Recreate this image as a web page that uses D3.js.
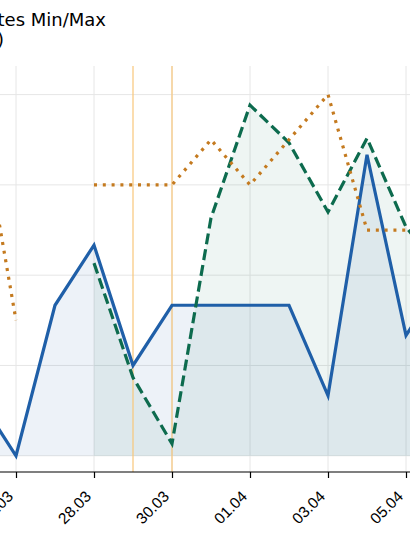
<!DOCTYPE html>
<html>
<head>
<meta charset="utf-8">
<script src="https://cdn.jsdelivr.net/npm/d3@7"></script>
<style>
  html, body { margin: 0; padding: 0; background: #fff; overflow: hidden; }
  svg { display: block; font-family: "DejaVu Sans", sans-serif; }
</style>
</head>
<body>
<svg id="chart" width="410" height="542"></svg>
<script>
// data (left part of the chart is cut off)
const dates = ["25.03", "26.03", "27.03", "28.03", "29.03", "30.03", "31.03",
               "01.04", "02.04", "03.04", "04.04", "05.04", "06.04"];
const seriesA = [2, 0, 5, 7, 3, 5, 5, 5, 5, 2, 10, 4, 6];
const seriesB = [null, null, null, 6.4, 2.6, 0.4, 7.9, 11.65, 10.4, 8.1, 10.55, 7.6, 6];
const seriesC = [12, 4.5, null, 9, 9, 9, 10.5, 9, 10.5, 12, 7.5, 7.5, 7.5];
const tickDates = ["26.03", "28.03", "30.03", "01.04", "03.04", "05.04"];
const yTicks = [0, 3, 6, 9, 12];
const markerDates = ["29.03", "30.03"];
const titleLines = ["Exchange Rates Min/Max", "(EUR)"];

const parse = s => d3.utcParse("%d.%m.%Y")(s + ".2024");

const rows = dates.map((d, i) => ({
  date: parse(d), a: seriesA[i], b: seriesB[i], c: seriesC[i]
}));

const svg = d3.select('#chart');
const plotTop = 66, plotBottom = 472, plotLeft = -60, plotRight = 470;

let x = d3.scaleUtc()
  .domain([parse("26.03"), parse("05.04")])
  .range([16, 406]);

let y = d3.scaleLinear()
  .domain([-0.54, 12.95])
  .range([plotBottom, plotTop]);

// grid
let grid = svg.append('g').attr('class', 'grid');
grid.selectAll('line.h')
  .data(yTicks)
  .enter().append('line')
  .attr('x1', plotLeft).attr('x2', plotRight)
  .attr('y1', d => y(d)).attr('y2', d => y(d))
  .attr('stroke', '#e6e6e6').attr('stroke-width', 1);
grid.selectAll('line.v')
  .data(tickDates.map(parse))
  .enter().append('line')
  .attr('x1', d => x(d)).attr('x2', d => x(d))
  .attr('y1', plotTop).attr('y2', plotBottom)
  .attr('stroke', '#e6e6e6').attr('stroke-width', 1);

// areas
let areaA = d3.area()
  .x(d => x(d.date)).y0(y(0)).y1(d => y(d.a));
let areaB = d3.area()
  .defined(d => d.b != null)
  .x(d => x(d.date)).y0(y(0)).y1(d => y(d.b));

svg.append('path').datum(rows)
  .attr('d', areaA)
  .attr('fill', '#1f5fa8').attr('fill-opacity', 0.08);
svg.append('path').datum(rows)
  .attr('d', areaB)
  .attr('fill', '#0d6b4e').attr('fill-opacity', 0.07);

// marker lines
svg.selectAll('line.marker')
  .data(markerDates.map(parse))
  .enter().append('line')
  .attr('x1', d => x(d)).attr('x2', d => x(d))
  .attr('y1', plotTop).attr('y2', plotBottom)
  .attr('stroke', '#f8c67a').attr('stroke-width', 1.2);

// lines
let lineA = d3.line().x(d => x(d.date)).y(d => y(d.a));
let lineB = d3.line().defined(d => d.b != null).x(d => x(d.date)).y(d => y(d.b));
let lineC = d3.line().defined(d => d.c != null).x(d => x(d.date)).y(d => y(d.c));

svg.append('path').datum(rows)
  .attr('d', lineA)
  .attr('fill', 'none').attr('stroke', '#1f5fa8').attr('stroke-width', 3.2)
  .attr('stroke-linejoin', 'miter');
svg.append('path').datum(rows)
  .attr('d', lineB)
  .attr('fill', 'none').attr('stroke', '#0d6b4e').attr('stroke-width', 3.2)
  .attr('stroke-dasharray', '11,5');
svg.append('path').datum(rows)
  .attr('d', lineC)
  .attr('fill', 'none').attr('stroke', '#c47a1f').attr('stroke-width', 3.2)
  .attr('stroke-dasharray', '3,5.8');

// x axis
let xAxis = svg.append('g')
  .attr('transform', 'translate(0,' + plotBottom + ')')
  .call(d3.axisBottom(x)
    .tickValues(tickDates.map(parse))
    .tickFormat(d3.utcFormat("%d.%m"))
    .tickSize(6)
    .tickSizeOuter(0));
xAxis.select('.domain').attr('d', 'M' + plotLeft + ',0H' + plotRight).attr('stroke', '#000').attr('stroke-width', 1.2);
xAxis.selectAll('.tick line').attr('stroke', '#000').attr('stroke-width', 1.2);
xAxis.selectAll('.tick text')
  .attr('font-size', 15.5)
  .attr('fill', '#000')
  .attr('text-anchor', 'end')
  .attr('y', 0).attr('dy', 0)
  .attr('transform', 'translate(-2.5,25.5) rotate(-45)');

// title
svg.append('text')
  .attr('x', 106).attr('y', 26)
  .attr('text-anchor', 'end')
  .attr('font-size', 18)
  .text(titleLines[0]);
svg.append('text')
  .attr('x', 4).attr('y', 46)
  .attr('text-anchor', 'end')
  .attr('font-size', 18)
  .text(titleLines[1]);
</script>
</body>
</html>
